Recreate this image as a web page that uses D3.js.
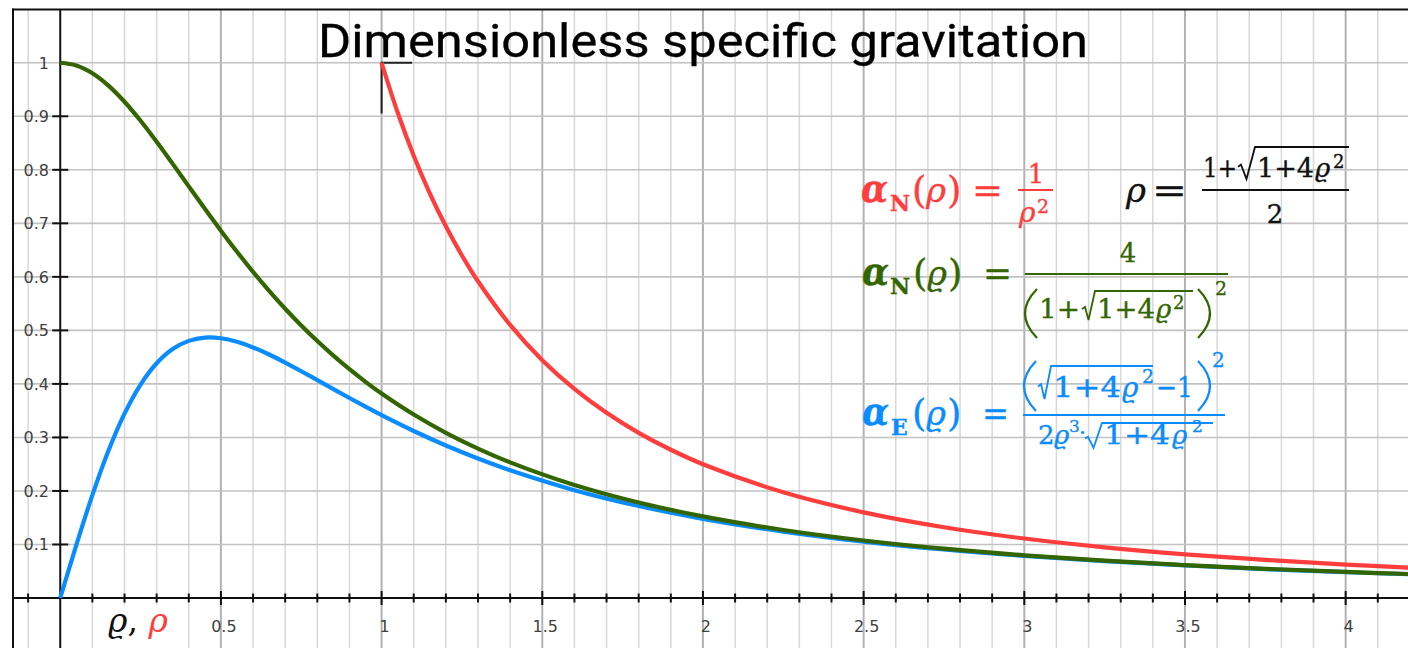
<!DOCTYPE html>
<html><head><meta charset="utf-8">
<script src="https://cdn.jsdelivr.net/npm/d3@7"></script>
<style>html,body{margin:0;padding:0;background:#fff;overflow:hidden}</style>
</head><body><svg id="chart" width="1408" height="648"></svg>
<script>
// Sample positions of the reduced radius ϱ and the two curves read along them
const varrhoGrid = [0,0.05,0.1,0.15,0.2,0.25,0.3,0.35,0.4,0.45,0.5,0.55,0.6,0.65,0.7,0.75,0.8,0.85,0.9,0.95,1.0,1.1,1.2,1.3,1.4,1.6,1.8,2.0,2.25,2.5,2.75,3.0,3.25,3.5,3.75,4.0,4.25];
const alphaNvarrho = [1,0.9950,0.9805,0.9574,0.9272,0.8916,0.8524,0.8111,0.7690,0.7272,0.6863,0.6469,0.6094,0.5739,0.5405,0.5092,0.4800,0.4528,0.4274,0.4039,0.3820,0.3427,0.3086,0.2791,0.2534,0.2111,0.1783,0.1524,0.1271,0.1075,0.0921,0.0797,0.0697,0.0614,0.0545,0.0487,0.0438];
const alphaEvarrho = [0,0.0990,0.1923,0.2751,0.3444,0.3988,0.4386,0.4652,0.4804,0.4865,0.4853,0.4787,0.4681,0.4549,0.4398,0.4237,0.4070,0.3903,0.3736,0.3574,0.3416,0.3120,0.2849,0.2605,0.2386,0.2015,0.1718,0.1479,0.1241,0.1054,0.0906,0.0787,0.0689,0.0608,0.0540,0.0483,0.0435];
// Newtonian curve, plotted against ρ from 1 outward
const rhoGrid = [1.0,1.05,1.1,1.15,1.2,1.25,1.3,1.4,1.5,1.6,1.7,1.8,1.9,2.0,2.25,2.5,2.75,3.0,3.25,3.5,3.75,4.0,4.25];
const alphaNrho = [1,0.9070,0.8264,0.7561,0.6944,0.6400,0.5917,0.5102,0.4444,0.3906,0.3460,0.3086,0.2770,0.2500,0.1975,0.1600,0.1322,0.1111,0.0947,0.0816,0.0711,0.0625,0.0554];
// Corner marker at ρ = 1
const cornerMark = [[1,0.905],[1,1],[1.095,1]];
// Tick labels
const xTickValues = [0.5,1,1.5,2,2.5,3,3.5,4];
const xTickLabels = ["0.5","1","1.5","2","2.5","3","3.5","4"];
const yTickValues = [0.1,0.2,0.3,0.4,0.5,0.6,0.7,0.8,0.9,1];
const yTickLabels = ["0.1","0.2","0.3","0.4","0.5","0.6","0.7","0.8","0.9","1"];

const W = 1408, H = 648;
const RED = "#ff3d3d", GREEN = "#336600", BLUE = "#0a8cff";
const svg = d3.select("#chart");

const x = d3.scaleLinear().domain([-0.147, 4.194]).range([13, W]);
const y = d3.scaleLinear().domain([-0.0934, 1.0993]).range([H, 9.6]);
const isHalf = d => Math.abs(d * 2 - Math.round(d * 2)) < 1e-6;

// ---- grid ----
const grid = svg.append("g");
const xMinor = d3.range(-1, 43).map(i => i / 10).filter(v => Math.abs(v) > 1e-9);
grid.selectAll("line.vx").data(xMinor).join("line")
  .attr("x1", d => x(d)).attr("x2", d => x(d)).attr("y1", 9).attr("y2", H)
  .attr("stroke", d => isHalf(d) ? "#b2b2b2" : "#d8d8d8")
  .attr("stroke-width", d => isHalf(d) ? 2 : 1.5);
const yMinor = d3.range(1, 11).map(i => i / 10);
grid.selectAll("line.hy").data(yMinor).join("line")
  .attr("x1", 13).attr("x2", W).attr("y1", d => y(d)).attr("y2", d => y(d))
  .attr("stroke", "#c2c2c2").attr("stroke-width", 1.6);

// ---- frame & axes ----
svg.append("line").attr("x1", 13).attr("x2", 13).attr("y1", 8.5).attr("y2", H).attr("stroke", "#111").attr("stroke-width", 2);
svg.append("line").attr("x1", 12).attr("x2", W).attr("y1", 9.5).attr("y2", 9.5).attr("stroke", "#111").attr("stroke-width", 2);
svg.append("line").attr("x1", x(0)).attr("x2", x(0)).attr("y1", 9).attr("y2", H).attr("stroke", "#111").attr("stroke-width", 2);
svg.append("line").attr("x1", 13).attr("x2", W).attr("y1", y(0)).attr("y2", y(0)).attr("stroke", "#111").attr("stroke-width", 2);

// x ticks (every 0.1, longer every 0.5)
svg.append("g").selectAll("line").data(xMinor).join("line")
  .attr("x1", d => x(d)).attr("x2", d => x(d))
  .attr("y1", d => y(0) - (isHalf(d) ? 7 : 4.5))
  .attr("y2", d => y(0) + (isHalf(d) ? 7 : 4.5))
  .attr("stroke", "#111").attr("stroke-width", 2);
// y ticks
svg.append("g").selectAll("line").data(yTickValues.filter(v => v < 0.95)).join("line")
  .attr("x1", x(0) - 8).attr("x2", x(0) + 8).attr("y1", d => y(d)).attr("y2", d => y(d))
  .attr("stroke", "#111").attr("stroke-width", 2);

const tickFont = "'DejaVu Sans', sans-serif";
svg.append("g").selectAll("text").data(xTickValues).join("text")
  .attr("x", d => x(d) + 3).attr("y", 632).attr("text-anchor", "middle")
  .attr("font-family", tickFont).attr("font-size", 16).attr("fill", "#404040")
  .text((d, i) => xTickLabels[i]);
svg.append("g").selectAll("text").data(yTickValues).join("text")
  .attr("x", 49).attr("y", d => y(d) + 5.8).attr("text-anchor", "end")
  .attr("font-family", tickFont).attr("font-size", 16).attr("fill", "#404040")
  .text((d, i) => yTickLabels[i]);

// axis variable label on a white patch
svg.append("rect").attr("x", 104).attr("y", 605).attr("width", 72).attr("height", 43).attr("fill", "#fff");
const axLab = svg.append("text").attr("x", 108).attr("y", 632)
  .attr("font-family", "'DejaVu Serif', serif").attr("font-size", 33).attr("font-style", "italic");
axLab.append("tspan").attr("fill", "#111").text("ϱ");
axLab.append("tspan").attr("fill", "#111").attr("font-style", "normal").text(", ");
axLab.append("tspan").attr("fill", RED).text("ρ");

// ---- curves ----
svg.append("clipPath").attr("id", "plotclip").append("rect")
  .attr("x", 14).attr("y", 10).attr("width", W - 14).attr("height", H - 10);
const plot = svg.append("g").attr("clip-path", "url(#plotclip)");
const line = d3.line().x(d => x(d[0])).y(d => y(d[1])).curve(d3.curveCatmullRom.alpha(0.5));

plot.append("path").datum(varrhoGrid.map((v, i) => [v, alphaEvarrho[i]]))
  .attr("d", line).attr("fill", "none").attr("stroke", BLUE).attr("stroke-width", 4.2);
plot.append("path").datum(varrhoGrid.map((v, i) => [v, alphaNvarrho[i]]))
  .attr("d", line).attr("fill", "none").attr("stroke", GREEN).attr("stroke-width", 4.2);
plot.append("path").datum(cornerMark)
  .attr("d", d3.line().x(d => x(d[0])).y(d => y(d[1]))).attr("fill", "none")
  .attr("stroke", "#222").attr("stroke-width", 2);
plot.append("path").datum(rhoGrid.map((v, i) => [v, alphaNrho[i]]))
  .attr("d", line).attr("fill", "none").attr("stroke", RED).attr("stroke-width", 4.2);

// ---- title ----
svg.append("text").attr("x", 703).attr("y", 57).attr("text-anchor", "middle")
  .attr("font-family", "Roboto, sans-serif").attr("font-size", 46).attr("fill", "#000")
  .attr("stroke", "#000").attr("stroke-width", 0.3)
  .attr("textLength", 770).attr("lengthAdjust", "spacingAndGlyphs")
  .text("Dimensionless specific gravitation");

// ---- formulas ----
const mathFont = "'DejaVu Serif', serif";
const fx = svg.append("g");
function put(s, px, py, o) {
  const t = fx.append("text").attr("x", px).attr("y", py)
    .attr("font-family", mathFont).attr("font-size", o.size || 24)
    .attr("fill", o.color).attr("stroke", o.color).attr("stroke-width", 0.35);
  if (o.it) t.attr("font-style", "italic");
  if (o.bold) t.attr("font-weight", "bold");
  if (o.anchor) t.attr("text-anchor", o.anchor);
  if (o.len) t.attr("textLength", o.len).attr("lengthAdjust", "spacingAndGlyphs");
  t.text(s);
  return t;
}
function bar(x1, x2, py, color) {
  fx.append("line").attr("x1", x1).attr("x2", x2).attr("y1", py).attr("y2", py)
    .attr("stroke", color).attr("stroke-width", 2);
}
function radical(x0, x1, yTop, yBot, xEnd, color) {
  const h = yBot - yTop;
  fx.append("path")
    .attr("d", `M${x0},${yTop + 0.62 * h} L${x0 + 3},${yTop + 0.55 * h} L${x0 + 0.5 * (x1 - x0)},${yBot} L${x1},${yTop} L${xEnd},${yTop}`)
    .attr("fill", "none").attr("stroke", color).attr("stroke-width", 1.8).attr("stroke-linejoin", "miter");
}
function paren(xEdge, yTop, yBot, bulge, color) {
  fx.append("path")
    .attr("d", `M${xEdge},${yTop} Q${xEdge + bulge},${(yTop + yBot) / 2} ${xEdge},${yBot}`)
    .attr("fill", "none").attr("stroke", color).attr("stroke-width", 2.2);
}

// α_N(ρ) = 1/ρ²
put("α", 861, 202, {size: 40, it: true, bold: true, color: RED, len: 27});
put("N", 890, 211, {size: 22, bold: true, color: RED});
put("(", 912, 203, {size: 37, color: RED});
put("ρ", 926, 202, {size: 34, it: true, color: RED});
put(")", 947, 203, {size: 37, color: RED});
put("=", 972, 202, {size: 34, color: RED, len: 31});
bar(1018, 1053, 190, RED);
put("1", 1036, 183, {size: 26, color: RED, anchor: "middle"});
put("ρ", 1019, 222, {size: 28, it: true, color: RED});
put("2", 1037, 213, {size: 19, color: RED});

// ρ = (1+√(1+4ϱ²))/2
const K = "#111";
put("ρ", 1126, 202, {size: 34, it: true, color: K});
put("=", 1152, 202, {size: 34, color: K, len: 35});
bar(1202, 1349, 190, K);
put("1+", 1203, 177, {size: 26, color: K, len: 34});
radical(1238, 1255, 147, 179, 1349, K);
put("1+4", 1257, 177, {size: 26, color: K, len: 57});
put("ϱ", 1315, 177, {size: 26, it: true, color: K});
put("2", 1333, 168, {size: 18, color: K});
put("2", 1275, 223, {size: 26, color: K, anchor: "middle"});

// α_N(ϱ) = 4/(1+√(1+4ϱ²))²
put("α", 862, 285, {size: 40, it: true, bold: true, color: GREEN, len: 27});
put("N", 890, 294, {size: 22, bold: true, color: GREEN});
put("(", 913, 286, {size: 37, color: GREEN});
put("ϱ", 927, 285, {size: 34, it: true, color: GREEN});
put(")", 948, 286, {size: 37, color: GREEN});
put("=", 983, 285, {size: 34, color: GREEN, len: 29});
bar(1025, 1228, 274, GREEN);
put("4", 1128, 262, {size: 26, color: GREEN, anchor: "middle"});
paren(1037, 289, 338, -24, GREEN);
put("1+", 1039, 318, {size: 26, color: GREEN, len: 41});
radical(1082, 1095, 291, 320, 1193, GREEN);
put("1+4", 1097, 318, {size: 26, color: GREEN, len: 58});
put("ϱ", 1156, 318, {size: 26, it: true, color: GREEN});
put("2", 1173, 309, {size: 18, color: GREEN});
paren(1198, 289, 338, 24, GREEN);
put("2", 1215, 295, {size: 19, color: GREEN});

// α_E(ϱ) = (√(1+4ϱ²) − 1)² / (2ϱ³·√(1+4ϱ²))
put("α", 862, 425, {size: 40, it: true, bold: true, color: BLUE, len: 27});
put("E", 891, 435, {size: 22, bold: true, color: BLUE});
put("(", 912, 426, {size: 37, color: BLUE});
put("ϱ", 926, 425, {size: 34, it: true, color: BLUE});
put(")", 947, 426, {size: 37, color: BLUE});
put("=", 982, 425, {size: 34, color: BLUE, len: 27});
bar(1023, 1225, 415, BLUE);
paren(1036, 361, 411, -24, BLUE);
radical(1038, 1051, 366, 399, 1153, BLUE);
put("1+4", 1053, 397, {size: 28, color: BLUE, len: 68});
put("ϱ", 1122, 397, {size: 28, it: true, color: BLUE});
put("2", 1142, 383, {size: 19, color: BLUE});
put("−1", 1156, 397, {size: 28, color: BLUE, len: 37});
paren(1198, 361, 411, 24, BLUE);
put("2", 1212, 367, {size: 20, color: BLUE});
put("2", 1038, 444, {size: 26, color: BLUE});
put("ϱ", 1054, 444, {size: 26, it: true, color: BLUE});
put("3", 1069, 432, {size: 17, color: BLUE});
put("·", 1079, 440, {size: 22, color: BLUE});
radical(1085, 1102, 423, 448, 1213, BLUE);
put("1+4", 1104, 444, {size: 26, color: BLUE, len: 66});
put("ϱ", 1172, 444, {size: 26, it: true, color: BLUE});
put("2", 1192, 432, {size: 17, color: BLUE});
</script>
</body></html>
